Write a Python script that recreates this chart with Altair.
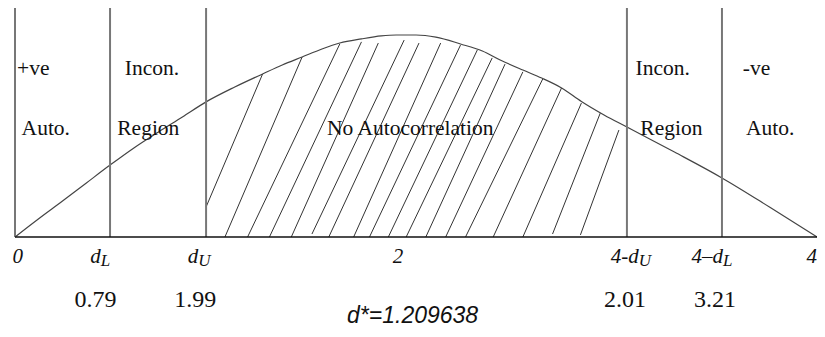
import altair as alt
import pandas as pd

# Durbin-Watson density sketch (x in d units 0..4, y relative height 0..1)
curve_x = [0.000, 0.123, 0.237, 0.356, 0.474, 0.593, 0.716, 0.835, 0.953, 1.096,
           1.235, 1.333, 1.432, 1.531, 1.620, 1.728, 1.827, 1.901, 2.000, 2.099,
           2.222, 2.331, 2.420, 2.533, 2.627, 2.726, 2.825, 2.938, 3.052, 3.289,
           3.526, 3.763, 4.000]
curve_y = [0.000, 0.083, 0.157, 0.236, 0.314, 0.389, 0.459, 0.524, 0.590, 0.655,
           0.712, 0.751, 0.786, 0.821, 0.847, 0.865, 0.878, 0.882, 0.882, 0.873,
           0.843, 0.812, 0.773, 0.729, 0.694, 0.651, 0.592, 0.533, 0.480, 0.371,
           0.258, 0.131, 0.000]

boundary_x = [0.000, 0.474, 0.953, 3.052, 3.526]

hatch_x0 = [0.953, 1.047, 1.160, 1.269, 1.378, 1.481, 1.565, 1.689, 1.768,
            1.862, 1.951, 2.049, 2.148, 2.247, 2.385, 2.533, 2.681, 2.820]
hatch_y0 = [0.131, 0.000, 0.000, 0.000, 0.000, 0.013, 0.000, 0.000, 0.000,
            0.000, 0.000, 0.000, 0.000, 0.000, 0.000, 0.000, 0.013, 0.009]
hatch_x1 = [1.235, 1.432, 1.620, 1.728, 1.812, 1.941, 2.015, 2.123, 2.222,
            2.306, 2.380, 2.444, 2.533, 2.632, 2.726, 2.825, 2.919, 3.012]
hatch_y1 = [0.712, 0.786, 0.843, 0.852, 0.847, 0.860, 0.847, 0.847, 0.838,
            0.817, 0.782, 0.755, 0.721, 0.690, 0.651, 0.585, 0.541, 0.467]

region_text = ["+ve", "Auto.", "Incon.", "Region", "No Autocorrelation",
               "Incon.", "Region", "-ve", "Auto."]
region_x = [0.010, 0.033, 0.548, 0.510, 1.556, 3.095, 3.119, 3.630, 3.646]
region_y = [0.707, 0.445, 0.707, 0.445, 0.445, 0.707, 0.445, 0.707, 0.445]

tick_main = ["0", "d", "d", "2", "4-d", "4\u2013d", "4"]
tick_sub = ["", "L", "U", "", "U", "L", ""]
tick_x = [0.040, 0.428, 0.914, 1.936, 3.111, 3.531, 4.000]

value_text = ["0.79", "1.99", "2.01", "3.21"]
value_x = [0.402, 0.899, 3.042, 3.491]

dstar_text = ["d*=1.209638"]
dstar_x = [1.983]

xs = alt.Scale(domain=[0, 4], nice=False, zero=False)
ys = alt.Scale(domain=[0, 1], nice=False, zero=False)

curve_df = pd.DataFrame({"x": curve_x, "y": curve_y, "i": range(len(curve_x))})
bound_df = pd.DataFrame({"x": boundary_x, "y0": [0.0] * len(boundary_x), "y1": [1.0] * len(boundary_x)})
hatch_df = pd.DataFrame({"x0": hatch_x0, "y0": hatch_y0, "x1": hatch_x1, "y1": hatch_y1})
region_df = pd.DataFrame({"t": region_text, "x": region_x, "y": region_y})
tick_df = pd.DataFrame({"main": tick_main, "sub": tick_sub, "x": tick_x})
value_df = pd.DataFrame({"t": value_text, "x": value_x})
dstar_df = pd.DataFrame({"t": dstar_text, "x": dstar_x})
base_df = pd.DataFrame({"x0": [0.0], "x1": [4.0], "y": [0.0]})

hatch = alt.Chart(hatch_df).mark_rule(color="#333333", strokeWidth=1).encode(
    x=alt.X("x0:Q", scale=xs, axis=None),
    y=alt.Y("y0:Q", scale=ys, axis=None),
    x2="x1:Q",
    y2="y1:Q",
)

curve = alt.Chart(curve_df).mark_line(color="#444444", strokeWidth=1.2, interpolate="monotone").encode(
    x=alt.X("x:Q", scale=xs, axis=None),
    y=alt.Y("y:Q", scale=ys, axis=None),
    order="i:Q",
)

bounds = alt.Chart(bound_df).mark_rule(color="#777777", strokeWidth=2).encode(
    x=alt.X("x:Q", scale=xs, axis=None),
    y=alt.Y("y0:Q", scale=ys, axis=None),
    y2="y1:Q",
)

baseline = alt.Chart(base_df).mark_rule(color="#111111", strokeWidth=1.5).encode(
    x=alt.X("x0:Q", scale=xs, axis=None),
    x2="x1:Q",
    y=alt.Y("y:Q", scale=ys, axis=None),
)

regions = alt.Chart(region_df).mark_text(
    font="Liberation Serif", fontSize=21.5, align="left", baseline="alphabetic", color="#111111"
).encode(
    x=alt.X("x:Q", scale=xs, axis=None),
    y=alt.Y("y:Q", scale=ys, axis=None),
    text="t:N",
)

ticks_main = alt.Chart(tick_df).mark_text(
    font="Liberation Serif", fontSize=21, fontStyle="italic", align="right",
    baseline="alphabetic", color="#111111"
).encode(
    x=alt.X("x:Q", scale=xs, axis=None),
    y=alt.value(254.7),
    text="main:N",
)

ticks_sub = alt.Chart(tick_df).mark_text(
    font="Liberation Serif", fontSize=17, fontStyle="italic", align="left",
    baseline="alphabetic", color="#111111"
).encode(
    x=alt.X("x:Q", scale=xs, axis=None),
    y=alt.value(257.5),
    text="sub:N",
)

values = alt.Chart(value_df).mark_text(
    font="Liberation Serif", fontSize=24, align="center", baseline="alphabetic", color="#111111"
).encode(
    x=alt.X("x:Q", scale=xs, axis=None),
    y=alt.value(298.7),
    text="t:N",
)

dstar = alt.Chart(dstar_df).mark_text(
    font="Liberation Sans", fontSize=23, fontStyle="italic", align="center",
    baseline="alphabetic", color="#111111"
).encode(
    x=alt.X("x:Q", scale=xs, axis=None),
    y=alt.value(315),
    text="t:N",
)

chart = alt.layer(
    hatch, curve, bounds, baseline, regions, ticks_main, ticks_sub, values, dstar
).properties(
    width=802,
    height=229,
    autosize=alt.AutoSizeParams(type="none"),
    padding={"left": 7, "top": 0, "right": 0, "bottom": 92},
).configure_view(stroke=None)

chart.save("out.html", embed_options={"renderer": "svg", "actions": False})
